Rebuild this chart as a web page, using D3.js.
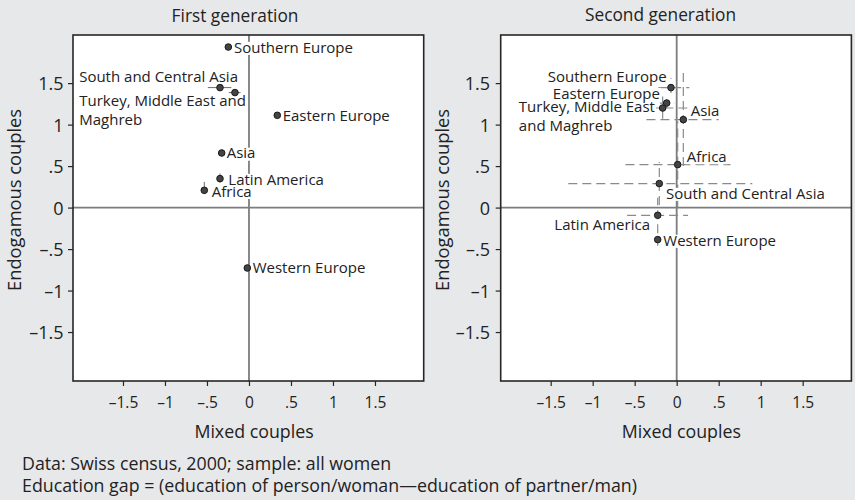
<!DOCTYPE html>
<html>
<head>
<meta charset="utf-8">
<script src="https://cdnjs.cloudflare.com/ajax/libs/d3/7.8.5/d3.min.js"></script>
<style>
  html, body { margin: 0; padding: 0; background: #e7e8ea; }
  svg { display: block; }
  text { font-family: "Open Sans", "Noto Sans", sans-serif; fill: #222; }
</style>
</head>
<body>
<svg id="chart" width="855" height="500"></svg>
<script>
// ---------------- DATA ----------------
const categories = ["Southern Europe", "South and Central Asia", "Turkey, Middle East and Maghreb",
  "Eastern Europe", "Asia", "Latin America", "Africa", "Western Europe"];

// First generation: point estimates
const firstMixed      = [-0.246, -0.345, -0.167, 0.337, -0.325, -0.345, -0.532, -0.02];
const firstEndogamous = [1.935, 1.446, 1.386, 1.112, 0.658, 0.349, 0.208, -0.728];
// First generation: intervals
const firstMixedLo = [-0.27, -0.49, -0.24, 0.31, -0.36, -0.37, -0.55, -0.04];
const firstMixedHi = [-0.22, -0.21, -0.10, 0.36, -0.29, -0.32, -0.51, 0.00];
const firstEndoLo  = [1.91, 1.42, 1.36, 1.09, 0.62, 0.30, 0.17, -0.75];
const firstEndoHi  = [1.96, 1.47, 1.41, 1.13, 0.70, 0.41, 0.31, -0.71];

// Second generation: point estimates
const secondMixed      = [-0.068, -0.207, -0.167, -0.119, 0.079, -0.226, 0.012, -0.226];
const secondEndogamous = [1.446, 0.289, 1.20, 1.26, 1.06, -0.093, 0.518, -0.386];
// Second generation: intervals
const secondMixedLo = [-0.22, -1.29, -0.48, -0.20, -0.36, -0.59, -0.61, -0.26];
const secondMixedHi = [0.15, 0.90, 0.16, -0.03, 0.50, 0.135, 0.64, -0.19];
const secondEndoLo  = [1.38, 0.03, 1.07, 1.20, 0.50, -0.31, 0.00, -0.46];
const secondEndoHi  = [1.56, 0.55, 1.34, 1.32, 1.65, 0.12, 1.04, -0.31];

const tickValues = [-1.5, -1, -0.5, 0, 0.5, 1, 1.5];
const tickLabels = ["\u20131.5", "\u20131", "\u2013.5", "0", ".5", "1", "1.5"];

const panelTitles = ["First generation", "Second generation"];
const xTitle = "Mixed couples";
const yTitle = "Endogamous couples";
const notes = ["Data: Swiss census, 2000; sample: all women",
  "Education gap = (education of person/woman\u2014education of partner/man)"];

// ---------------- LAYOUT ----------------
const svg = d3.select("#chart");
const xDomain = [-2.095, 2.08];
const yDomain = [-2.09, 2.08];
const plotTop = 35, plotBottom = 381;

const labelLayout = [
  { // first
    "Southern Europe": {a: "start", dx: 5.7, dy: 5.6},
    "South and Central Asia": {a: "end", dx: 18, dy: -5.7},
    "Turkey, Middle East and Maghreb": {a: "end", dx: 11, dy: 13.3, lines: ["Turkey, Middle East and", "Maghreb"]},
    "Eastern Europe": {a: "start", dx: 5.4, dy: 5.5},
    "Asia": {a: "start", dx: 5, dy: 5.5},
    "Latin America": {a: "start", dx: 8.3, dy: 6.0},
    "Africa": {a: "start", dx: 7.4, dy: 6.4},
    "Western Europe": {a: "start", dx: 5.4, dy: 5.5}
  },
  { // second
    "Southern Europe": {a: "end", dx: -4.3, dy: -5.6},
    "Eastern Europe": {a: "end", dx: -6.7, dy: -4.4},
    "Turkey, Middle East and Maghreb": {a: "end", dx: -7.7, dy: 4, lines: ["Turkey, Middle East", "and Maghreb"]},
    "Asia": {a: "start", dx: 7.4, dy: -3.3},
    "Africa": {a: "start", dx: 9, dy: -2.6},
    "South and Central Asia": {a: "start", dx: 6.7, dy: 15},
    "Latin America": {a: "end", dx: -7.7, dy: 14.3},
    "Western Europe": {a: "start", dx: 5.6, dy: 6}
  }
];

const panels = [
  {x0: 73, x1: 423.7, titleX: 235, titleY: 21.7, xTitleX: 254, yTitleX: 21, yTickEnd: 63.5,
   mx: firstMixed, my: firstEndogamous, mlo: firstMixedLo, mhi: firstMixedHi, ylo: firstEndoLo, yhi: firstEndoHi,
   dashed: false},
  {x0: 500.7, x1: 851.4, titleX: 660.5, titleY: 20.7, xTitleX: 681.3, yTitleX: 449, yTickEnd: 490,
   mx: secondMixed, my: secondEndogamous, mlo: secondMixedLo, mhi: secondMixedHi, ylo: secondEndoLo, yhi: secondEndoHi,
   dashed: true}
];

const labelFs = 15;

panels.forEach((p, pi) => {
  const x = d3.scaleLinear().domain(xDomain).range([p.x0, p.x1]);
  const y = d3.scaleLinear().domain(yDomain).range([plotBottom, plotTop]);
  const g = svg.append("g");

  g.append("rect").attr("x", p.x0).attr("y", plotTop).attr("width", p.x1 - p.x0).attr("height", plotBottom - plotTop)
    .attr("fill", "#fff");

  g.append("line").attr("x1", p.x0).attr("x2", p.x1).attr("y1", y(0)).attr("y2", y(0))
    .attr("stroke", "#7d7d7d").attr("stroke-width", 1.8);
  g.append("line").attr("x1", x(0)).attr("x2", x(0)).attr("y1", plotTop).attr("y2", plotBottom)
    .attr("stroke", "#7d7d7d").attr("stroke-width", 1.8);

  const ci = g.append("g").attr("stroke", p.dashed ? "#8a8a8a" : "#6a6a6a")
    .attr("stroke-width", p.dashed ? 1.2 : 1)
    .attr("stroke-dasharray", p.dashed ? "9,5" : null).attr("fill", "none");
  categories.forEach((c, i) => {
    ci.append("line").attr("x1", x(p.mlo[i])).attr("x2", x(p.mhi[i])).attr("y1", y(p.my[i])).attr("y2", y(p.my[i]));
    ci.append("line").attr("x1", x(p.mx[i])).attr("x2", x(p.mx[i])).attr("y1", y(p.ylo[i])).attr("y2", y(p.yhi[i]));
  });

  const lg = g.append("g");
  categories.forEach((c, i) => {
    const L = labelLayout[pi][c];
    const px = x(p.mx[i]), py = y(p.my[i]);
    const lines = L.lines || [c];
    let startX = null;
    lines.forEach((ln, li) => {
      const bg = lg.append("rect").attr("fill", "#fff");
      const t = lg.append("text").attr("font-size", labelFs).text(ln);
      const baseY = py + L.dy + li * 19;
      let tx, anchor;
      if (li === 0) { tx = px + L.dx; anchor = L.a; }
      else { tx = startX; anchor = "start"; }
      t.attr("x", tx).attr("y", baseY).attr("text-anchor", anchor);
      const w = t.node().getComputedTextLength();
      const left = anchor === "end" ? tx - w : tx;
      if (li === 0) startX = left;
      bg.attr("x", left - 1).attr("width", w + 2)
        .attr("y", baseY - 0.72 * labelFs).attr("height", 0.72 * labelFs + 0.15 * labelFs);
    });
  });

  g.append("g").selectAll("circle").data(categories).join("circle")
    .attr("cx", (d, i) => x(p.mx[i])).attr("cy", (d, i) => y(p.my[i])).attr("r", 3.3)
    .attr("fill", "#444").attr("stroke", "#1a1a1a").attr("stroke-width", 1);

  g.append("rect").attr("x", p.x0).attr("y", plotTop).attr("width", p.x1 - p.x0).attr("height", plotBottom - plotTop)
    .attr("fill", "none").attr("stroke", "#262626").attr("stroke-width", 1.6);

  const xa = g.append("g").attr("transform", `translate(0,${plotBottom})`)
    .call(d3.axisBottom(x).tickValues(tickValues).tickSize(5).tickPadding(0).tickFormat((d, i) => tickLabels[i]));
  xa.select(".domain").remove();
  xa.selectAll(".tick line").attr("stroke", "#262626").attr("stroke-width", 1.2);
  xa.selectAll(".tick text").attr("font-size", 15.5).attr("font-family", "Open Sans").attr("fill", "#222")
    .attr("dy", null).attr("y", 27);

  const ya = g.append("g").attr("transform", `translate(${p.x0},0)`)
    .call(d3.axisLeft(y).tickValues(tickValues).tickSize(5).tickPadding(0).tickFormat((d, i) => tickLabels[i]));
  ya.select(".domain").remove();
  ya.selectAll(".tick line").attr("stroke", "#262626").attr("stroke-width", 1.2);
  ya.selectAll(".tick text").attr("font-size", 18).attr("font-family", "Open Sans").attr("fill", "#222")
    .attr("x", p.yTickEnd - p.x0).attr("dy", "0.36em");

  svg.append("text").attr("x", p.titleX).attr("y", p.titleY).attr("text-anchor", "middle")
    .attr("font-size", 17.3).text(panelTitles[pi]);
  svg.append("text").attr("x", p.xTitleX).attr("y", 438.3).attr("text-anchor", "middle")
    .attr("font-size", 17.8).text(xTitle);
  svg.append("text").attr("transform", `translate(${p.yTitleX},200) rotate(-90)`).attr("text-anchor", "middle")
    .attr("font-size", 18.3).text(yTitle);
});

svg.append("g").selectAll("text").data(notes).join("text")
  .attr("x", 22).attr("y", (d, i) => 470 + i * 21.7)
  .attr("font-size", 17.8).text(d => d);
</script>
</body>
</html>
